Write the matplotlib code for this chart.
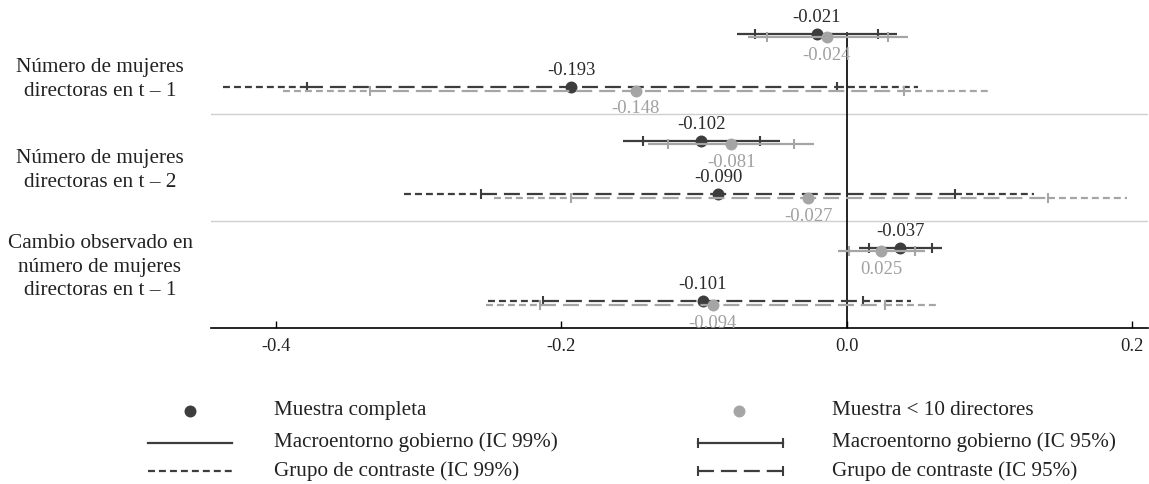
import matplotlib
matplotlib.use('Agg')
import matplotlib.pyplot as plt
from matplotlib.transforms import blended_transform_factory

plt.rcParams.update({
    'font.family': ['Liberation Serif', 'DejaVu Serif'],
    'axes.unicode_minus': False,
    'lines.scale_dashes': False,
})

# ---- data (order: g1 macro, g1 contraste, g2 macro, g2 contraste, g3 macro, g3 contraste)
groups = ['Número de mujeres\ndirectoras en t – 1',
          'Número de mujeres\ndirectoras en t – 2',
          'Cambio observado en\nnúmero de mujeres\ndirectoras en t – 1']

est_full = [-0.021, -0.193, -0.102, -0.090, 0.0375, -0.101]
lab_full = ['-0.021', '-0.193', '-0.102', '-0.090', '-0.037', '-0.101']
lo99_full = [-0.077, -0.437, -0.157, -0.310, 0.0085, -0.2515]
hi99_full = [0.0355, 0.050, -0.047, 0.131, 0.067, 0.0453]
lo95_full = [-0.064, -0.378, -0.143, -0.256, 0.0154, -0.213]
hi95_full = [0.022, -0.007, -0.061, 0.076, 0.060, 0.011]

est_small = [-0.014, -0.148, -0.081, -0.027, 0.024, -0.094]
lab_small = ['-0.024', '-0.148', '-0.081', '-0.027', '0.025', '-0.094']
lo99_small = [-0.069, -0.395, -0.139, -0.247, -0.0063, -0.253]
hi99_small = [0.043, 0.100, -0.023, 0.196, 0.055, 0.0645]
lo95_small = [-0.056, -0.334, -0.125, -0.193, 0.0016, -0.215]
hi95_small = [0.029, 0.040, -0.037, 0.141, 0.048, 0.027]

xticks = [-0.4, -0.2, 0.0, 0.2]

DARK = '#3d3d3d'
LIGHT = '#a5a5a5'
SHORT = (0, (5, 2.9))
LONG = (0, (11.5, 5))

fig = plt.figure(figsize=(11.49, 4.84), dpi=100)
ax = fig.add_axes([0.1836, 0.3223, 0.8155, 0.6634])


def draw_sample(est, labs, lo99, hi99, lo95, hi95, color, txtcolor, dy, label_dy, z):
    for i in range(len(est)):
        g, m = divmod(i, 2)
        y = g + (0.25 if m == 0 else 0.75) + dy
        if m == 0:
            ax.plot([lo99[i], hi99[i]], [y, y], color=color, lw=1.6,
                    solid_capstyle='butt', zorder=z)
            ax.plot([lo95[i], hi95[i]], [y, y], color=color, lw=1.6, ls='none',
                    marker='|', ms=6.5, mew=1.5, zorder=z)
        else:
            ax.plot([lo99[i], lo95[i]], [y, y], color=color, lw=1.6, ls=SHORT, zorder=z)
            ax.plot([hi95[i], hi99[i]], [y, y], color=color, lw=1.6, ls=SHORT, zorder=z)
            ax.plot([lo95[i], hi95[i]], [y, y], color=color, lw=1.6, ls=LONG,
                    marker='|', ms=6.5, mew=1.5, markevery=[0, 1], zorder=z)
        ax.plot(est[i], y, 'o', ms=8.6, color=color, mec='none', zorder=z + 1)
        ax.annotate(labs[i], (est[i], y), xytext=(0, label_dy), textcoords='offset points',
                    ha='center', va='center', fontsize=13.4, color=txtcolor, zorder=z + 2)


draw_sample(est_full, lab_full, lo99_full, hi99_full, lo95_full, hi95_full,
            DARK, '#2a2a2a', 0.0, 12, 3)
draw_sample(est_small, lab_small, lo99_small, hi99_small, lo95_small, hi95_small,
            LIGHT, '#a0a0a0', 0.035, -13, 5)

# separators and zero line
for g in range(1, len(groups)):
    ax.axhline(g, color='#cfcfcf', lw=1.0, zorder=1)
ax.axvline(0, ymin=0, ymax=1 - 0.243 / 3, color='black', lw=1.2, zorder=2)

ax.set_xlim(-0.4455, 0.211)
ax.set_ylim(3, 0)
ax.set_xticks(xticks)
ax.set_xticklabels([f'{t:.1f}' for t in xticks], fontsize=13.3, color='#222222')
ax.set_yticks([])
for s in ['left', 'top', 'right']:
    ax.spines[s].set_visible(False)
ax.spines['bottom'].set_linewidth(1.2)
ax.tick_params(axis='x', direction='in', length=5, width=1.0, pad=7)

# group labels
tr = blended_transform_factory(fig.transFigure, ax.transData)
label_pos = [0.68, 1.53, 2.43]
for name, yp in zip(groups, label_pos):
    ax.text(100 / 1149, yp, name, transform=tr, ha='center', va='center',
            fontsize=15.3, color='#222222', linespacing=1.32)

# legend drawn by hand
lg = fig.add_axes([0, 0, 1, 1], zorder=-1)
lg.set_xlim(0, 1149)
lg.set_ylim(484, 0)
lg.axis('off')
rows = [410.5, 442.5, 471]
lg.plot([190], [rows[0]], 'o', ms=8.6, color=DARK, mec='none')
lg.plot([148, 232], [rows[1]] * 2, color=DARK, lw=1.6)
lg.plot([148, 232], [rows[2]] * 2, color=DARK, lw=1.6, ls=SHORT)
lg.plot([739], [rows[0]], 'o', ms=8.6, color=LIGHT, mec='none')
lg.plot([698, 783], [rows[1]] * 2, color=DARK, lw=1.6, marker='|', ms=6.5, mew=1.5)
lg.plot([698, 783], [rows[2]] * 2, color=DARK, lw=1.6, ls=LONG, marker='|', ms=6.5, mew=1.5)
texts1 = ['Muestra completa', 'Macroentorno gobierno (IC 99%)', 'Grupo de contraste (IC 99%)']
texts2 = ['Muestra < 10 directores', 'Macroentorno gobierno (IC 95%)', 'Grupo de contraste (IC 95%)']
for yy, t1, t2 in zip(rows, texts1, texts2):
    lg.text(274, yy, t1, ha='left', va='center', fontsize=15.2, color='#222222')
    lg.text(832, yy, t2, ha='left', va='center', fontsize=15.2, color='#222222')

fig.savefig('out.png', dpi=100)
